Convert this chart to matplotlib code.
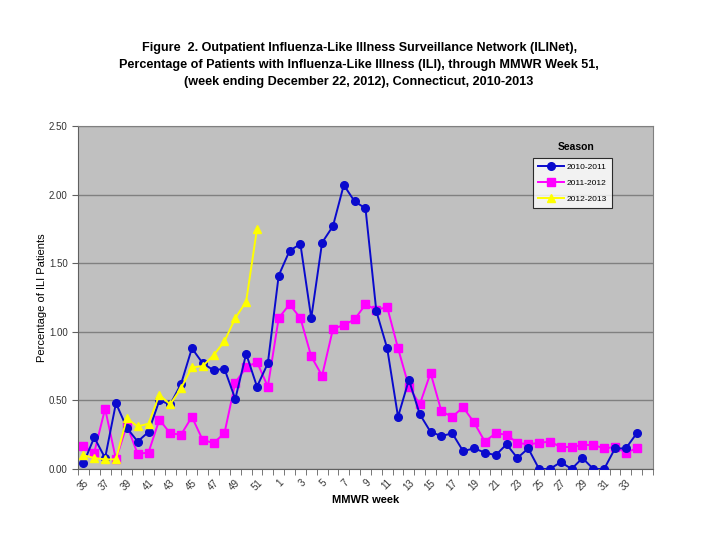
import numpy as np
import matplotlib
matplotlib.use("Agg")
import matplotlib.pyplot as plt

plt.rcParams['font.family'] = ['Liberation Sans', 'DejaVu Sans']

# MMWR weeks 35..52, then 1..35 (last category has no data)
semanas = [str(w) for w in range(35, 53)] + [str(w) for w in range(1, 36)]

s2010_2011 = [0.04, 0.23, 0.08, 0.48, 0.30, 0.20, 0.27, 0.50, 0.47, 0.62,
              0.88, 0.77, 0.72, 0.73, 0.51, 0.84, 0.60, 0.77,
              1.41, 1.59, 1.64, 1.10, 1.65, 1.77, 2.07, 1.95, 1.90, 1.15,
              0.88, 0.38, 0.65, 0.40, 0.27, 0.24, 0.26, 0.13, 0.15, 0.12,
              0.10, 0.18, 0.08, 0.15, 0.00, 0.00, 0.05, 0.00, 0.08, 0.00,
              0.00, 0.15, 0.15, 0.26]
s2011_2012 = [0.17, 0.12, 0.44, 0.07, 0.32, 0.11, 0.12, 0.36, 0.26, 0.25,
              0.38, 0.21, 0.19, 0.26, 0.63, 0.74, 0.78, 0.60,
              1.10, 1.20, 1.10, 0.82, 0.68, 1.02, 1.05, 1.09, 1.20, 1.16,
              1.18, 0.88, 0.60, 0.47, 0.70, 0.42, 0.38, 0.45, 0.34, 0.20,
              0.26, 0.25, 0.19, 0.18, 0.19, 0.20, 0.16, 0.16, 0.175, 0.175,
              0.15, 0.16, 0.12, 0.15]
s2012_2013 = [0.10, 0.08, 0.07, 0.07, 0.37, 0.31, 0.33, 0.54, 0.47, 0.59,
              0.74, 0.75, 0.83, 0.93, 1.10, 1.22, 1.75]

fig = plt.figure(figsize=(7.07, 5.38), dpi=100)
ax = fig.add_axes([0.1103, 0.1283, 0.8133, 0.6375])
ax.set_facecolor('#C0C0C0')

x = np.arange(len(semanas))
ax.plot(x[:len(s2010_2011)], s2010_2011, color='#0A0ACD', marker='o',
        markersize=5.5, linewidth=1.4, label='2010-2011', zorder=3)
ax.plot(x[:len(s2011_2012)], s2011_2012, color='#FF00FF', marker='s',
        markersize=6, linewidth=1.4, label='2011-2012', zorder=2)
ax.plot(x[:len(s2012_2013)], s2012_2013, color='#FFFF00', marker='^',
        markersize=5.5, linewidth=1.4, label='2012-2013', zorder=4)

ax.set_xlim(-0.5, len(semanas) - 0.5)
ax.set_ylim(0, 2.5)
ax.set_yticks(np.arange(0, 2.51, 0.5))
ax.set_yticklabels([f'{v:.2f}' for v in np.arange(0, 2.51, 0.5)],
                   fontsize=7, color='#333333')
ax.yaxis.grid(True, color='#808080', linewidth=1.0)
ax.set_axisbelow(True)

ax.set_xticks(x[:-1:2])
ax.set_xticklabels(semanas[:-1:2], rotation=45, fontsize=7, color='#333333',
                   ha='right', va='top', rotation_mode='anchor')
ax.set_xticks(np.arange(-0.5, len(semanas), 1), minor=True)
ax.tick_params(axis='x', which='major', length=0, pad=6)
ax.tick_params(axis='x', which='minor', length=4, color='#606060')
ax.tick_params(axis='y', length=4, color='#606060')

for lado in ['top', 'right']:
    ax.spines[lado].set_color('#808080')
for lado in ['left', 'bottom']:
    ax.spines[lado].set_color('#606060')

ax.set_ylabel('Percentage of ILI Patients', fontsize=8, labelpad=1)
ax.set_xlabel('MMWR week', fontsize=8, fontweight='bold', labelpad=2)

leg = ax.legend(loc='upper right', bbox_to_anchor=(0.929, 0.907), fontsize=6,
                frameon=True, fancybox=False, borderaxespad=0,
                handlelength=3.2, borderpad=0.6, labelspacing=1.0,
                handletextpad=0.3)
leg.get_frame().set_edgecolor('black')
leg.get_frame().set_linewidth(0.8)
leg.get_frame().set_facecolor('white')
ax.text(0.866, 0.939, 'Season', transform=ax.transAxes, ha='center',
        va='center', fontsize=7.5, fontweight='bold')

fig.text(0.508, 0.922,
         'Figure  2. Outpatient Influenza-Like Illness Surveillance Network (ILINet),\n'
         'Percentage of Patients with Influenza-Like Illness (ILI), through MMWR Week 51,\n'
         '(week ending December 22, 2012), Connecticut, 2010-2013',
         ha='center', va='top', fontsize=9.1, fontweight='bold',
         linespacing=1.53)

fig.savefig('out.png', dpi=100)
